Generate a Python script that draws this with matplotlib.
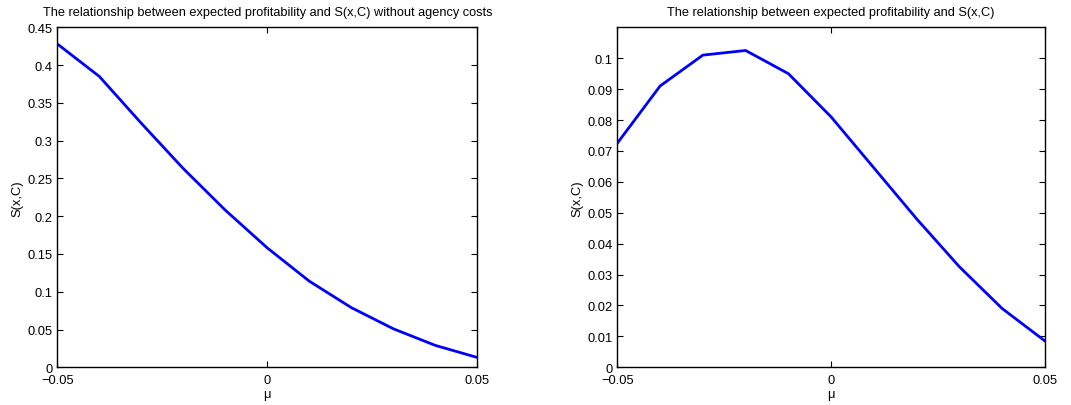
import numpy as np
import matplotlib
matplotlib.use("Agg")
import matplotlib.pyplot as plt

plt.rcParams["font.family"] = ["Liberation Sans", "DejaVu Sans"]

mu = [-0.05, -0.04, -0.03, -0.02, -0.01, 0.0, 0.01, 0.02, 0.03, 0.04, 0.05]
s_no_agency = [0.428, 0.385, 0.323, 0.263, 0.208, 0.158, 0.114, 0.079, 0.051, 0.029, 0.013]
s_agency = [0.0725, 0.091, 0.101, 0.1025, 0.095, 0.081, 0.0645, 0.048, 0.0325, 0.019, 0.0085]

titles = [
    "The relationship between expected profitability and S(x,C) without agency costs",
    "The relationship between expected profitability and S(x,C)",
]

fig = plt.figure(figsize=(10.71, 4.06), dpi=100)
W, H = 1071, 406
ax1 = fig.add_axes([57.3 / W, 1 - 368.3 / H, 420 / W, 340 / H])
ax2 = fig.add_axes([617.3 / W, 1 - 368.3 / H, 427.7 / W, 340 / H])


def style(ax, ylim, yticks, title, ylab_pad):
    ax.set_xlim(-0.05, 0.05)
    ax.set_ylim(*ylim)
    ax.set_xticks([-0.05, 0, 0.05])
    ax.set_xticklabels(["\u22120.05", "0", "0.05"])
    ax.set_yticks(yticks)
    ax.set_yticklabels([("%g" % t) for t in yticks])
    ax.tick_params(direction="in", top=True, right=True, labelsize=9.3,
                   length=4, width=0.8, colors="black")
    ax.tick_params(axis="x", pad=5)
    ax.tick_params(axis="y", pad=3.5)
    for sp in ax.spines.values():
        sp.set_linewidth(1.0)
    ax.set_xlabel("\u03bc", fontsize=9.3, labelpad=1)
    ax.set_ylabel("S(x,C)", fontsize=9.3, labelpad=ylab_pad)
    ax.set_title(title, fontsize=9.2, pad=8.5)


ax1.plot(mu, s_no_agency, color=(0, 0, 1), lw=2)
style(ax1, (0, 0.45), np.round(np.arange(0, 0.451, 0.05), 2), titles[0], 3)

ax2.plot(mu, s_agency, color=(0, 0, 1), lw=2)
style(ax2, (0, 0.11), np.round(np.arange(0, 0.101, 0.01), 2), titles[1], 3)

fig.savefig("out.png", dpi=100)
